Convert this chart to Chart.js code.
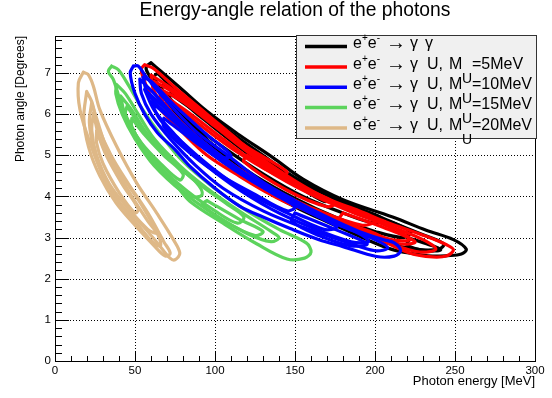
<!DOCTYPE html>
<html><head><meta charset="utf-8">
<script src="https://cdn.jsdelivr.net/npm/chart.js@4/dist/chart.umd.min.js"></script>
<style>html,body{margin:0;padding:0;background:#fff}#wrap{width:552px;height:398px}</style>
</head><body><div id="wrap"><canvas id="c" width="552" height="398"></canvas></div>
<script>
// ---------------- data ----------------
const xTicks = [0, 50, 100, 150, 200, 250, 300];
const yTicks = [0, 1, 2, 3, 4, 5, 6, 7];
const chartTitle = 'Energy-angle relation of the photons';
const xTitle = 'Photon energy [MeV]';
const yTitle = 'Photon angle [Degrees]';
const seriesNames = ['γγ', 'U 5 MeV', 'U 10 MeV', 'U 15 MeV', 'U 20 MeV'];
const uMasses = ['', '5MeV', '10MeV', '15MeV', '20MeV'];

// contour loops [energy MeV, angle deg]
const ggLevel1 = [[60,7.25],[66,7.05],[78,6.65],[95,6.07],[115,5.5],[136,4.95],[155,4.42],[180,3.92],[211,3.5],[232,3.18],[249,2.95],[257,2.72],[254,2.6],[245,2.56],[236,2.55],[222,2.62],[210,2.72],[195,2.95],[175,3.3],[150,3.75],[125,4.3],[105,4.9],[88,5.5],[75,6.05],[65,6.6],[58,7.0],[57,7.15],[60,7.25]];
const ggLevel2 = [[64,7.0],[72,6.7],[90,6.1],[110,5.55],[130,5.0],[155,4.3],[180,3.8],[205,3.45],[228,3.1],[243,2.85],[240,2.72],[225,2.72],[205,2.9],[180,3.3],[155,3.75],[130,4.3],[108,4.9],[90,5.5],[75,6.1],[66,6.6],[62,6.9],[64,7.0]];
const ggLevel3 = [[68,6.75],[80,6.4],[100,5.8],[125,5.1],[150,4.45],[175,3.95],[200,3.55],[222,3.15],[218,3.0],[200,3.15],[175,3.5],[150,3.95],[125,4.5],[105,5.05],[88,5.65],[75,6.25],[67,6.6],[68,6.75]];
const ggLevel4 = [[72,6.5],[90,6.0],[115,5.3],[140,4.65],[165,4.1],[190,3.7],[205,3.45],[200,3.35],[180,3.6],[155,4.0],[130,4.55],[105,5.2],[85,5.8],[72,6.35],[72,6.5]];
const ggLevel5 = [[222,2.98],[236,2.8],[241,2.7],[232,2.68],[220,2.82],[222,2.98]];
const ggLevel6 = [[82,6.4],[100,5.85],[125,5.1],[150,4.45],[172,3.95],[168,3.88],[148,4.35],[122,5.0],[97,5.75],[82,6.25],[82,6.4]];

const u5Level1 = [[56,7.2],[62,7.1],[75,6.65],[95,6.0],[115,5.35],[128,4.95],[150,4.38],[170,3.95],[190,3.65],[207,3.38],[232,3.03],[245,2.82],[249,2.7],[245,2.56],[236,2.53],[222,2.62],[201,3.0],[180,3.4],[149,3.78],[130,4.15],[115,4.5],[95,5.0],[80,5.55],[62,6.3],[55,6.9],[54,7.1],[56,7.2]];
const u5Level2 = [[60,6.95],[70,6.7],[90,6.1],[115,5.3],[145,4.45],[175,3.85],[205,3.35],[230,2.95],[238,2.72],[228,2.65],[210,2.85],[185,3.25],[160,3.6],[135,4.1],[110,4.7],[90,5.3],[72,6.0],[62,6.55],[60,6.95]];
const u5Level3 = [[66,6.6],[80,6.3],[100,5.7],[125,4.95],[155,4.2],[185,3.65],[215,3.15],[222,2.95],[210,2.95],[185,3.3],[160,3.7],[135,4.2],[112,4.75],[92,5.35],[75,5.95],[66,6.4],[66,6.6]];
const u5Level4 = [[70,6.4],[85,6.0],[105,5.4],[130,4.7],[160,4.05],[190,3.55],[200,3.4],[192,3.3],[165,3.65],[140,4.1],[115,4.65],[95,5.2],[80,5.75],[70,6.2],[70,6.4]];
const u5Level5 = [[120,5.0],[150,4.3],[175,3.85],[170,3.75],[145,4.15],[118,4.85],[120,5.0]];
const u5Level6 = [[62,6.8],[75,6.5],[95,5.9],[120,5.2],[145,4.6],[140,4.5],[115,5.05],[92,5.7],[75,6.25],[64,6.65],[62,6.8]];
const u5Level7 = [[180,3.6],[205,3.25],[225,2.9],[215,2.85],[200,3.1],[178,3.45],[180,3.6]];

const u10Level1 = [[49,7.17],[52,7.17],[56,6.96],[66.7,6.45],[87.5,5.6],[108,5.0],[128,4.4],[150,3.9],[170,3.5],[190,3.15],[205,2.95],[212,2.87],[216,2.68],[212,2.55],[201,2.54],[180,2.78],[165,2.95],[147,3.22],[130,3.5],[115.6,3.76],[100,4.2],[84.4,4.73],[75,5.14],[64,5.55],[56,6.0],[50,6.5],[47,7.0],[49,7.17]];
const u10Level2 = [[53,6.85],[62,6.5],[80,5.75],[100,5.1],[125,4.4],[150,3.85],[175,3.35],[200,2.95],[208,2.75],[200,2.68],[180,2.92],[155,3.25],[130,3.65],[105,4.2],[88,4.75],[72,5.4],[60,6.0],[54,6.5],[53,6.85]];
const u10Level3 = [[56,6.6],[70,6.1],[90,5.4],[115,4.65],[140,4.0],[165,3.5],[190,3.1],[196,2.9],[185,2.9],[160,3.25],[135,3.7],[110,4.3],[90,4.9],[75,5.5],[62,6.1],[56,6.6]];
const u10Level4 = [[60,6.3],[75,5.8],[95,5.15],[120,4.45],[145,3.9],[170,3.4],[176,3.25],[168,3.2],[145,3.6],[120,4.1],[98,4.7],[80,5.3],[66,5.85],[60,6.3]];
const u10Level5 = [[68,5.9],[85,5.4],[110,4.7],[135,4.1],[150,3.75],[145,3.65],[125,4.05],[100,4.6],[80,5.2],[68,5.7],[68,5.9]];
const u10Level6 = [[55,6.9],[60,6.8],[75,6.2],[95,5.5],[110,5.0],[105,4.95],[88,5.4],[70,6.0],[58,6.5],[55,6.9]];
const u10Level7 = [[150,3.6],[175,3.2],[195,2.85],[185,2.8],[165,3.05],[148,3.4],[150,3.6]];

const u15Level1 = [[35.4,7.17],[39.6,7.08],[46,6.7],[55,6.1],[66,5.5],[80,4.85],[98,4.25],[118,3.7],[140,3.2],[157,2.87],[160,2.65],[156,2.5],[145,2.48],[126,2.85],[105,3.35],[84.4,3.88],[76,4.25],[61.4,4.81],[51,5.46],[42.7,6.11],[36.5,6.84],[33.3,7.04],[35.4,7.17]];
const u15Level2 = [[38.5,6.72],[44,6.5],[52,6.0],[62,5.4],[78,4.75],[95,4.2],[115,3.65],[135,3.15],[140,3.0],[135,2.9],[120,3.1],[100,3.55],[80,4.1],[62,4.75],[50,5.4],[42,6.0],[38,6.5],[38.5,6.72]];
const u15Level3 = [[41,6.44],[48,6.1],[58,5.5],[72,4.9],[90,4.3],[108,3.8],[118,3.5],[114,3.35],[100,3.65],[82,4.15],[65,4.75],[52,5.4],[44,5.95],[41,6.44]];
const u15Level4 = [[45,6.19],[52,5.8],[62,5.3],[75,4.8],[88,4.35],[92,4.05],[85,4.0],[72,4.4],[58,5.0],[48,5.6],[44,6.0],[45,6.19]];
const u15Level5 = [[48,5.9],[56,5.5],[68,5.0],[80,4.55],[78,4.4],[66,4.8],[54,5.3],[48,5.7],[48,5.9]];
const u15Level6 = [[95,3.9],[115,3.45],[130,3.15],[125,3.05],[108,3.35],[92,3.8],[95,3.9]];

const u20Level1 = [[17.7,7.02],[20.8,6.96],[24,6.68],[28,6.11],[38.5,5.22],[51,4.33],[63.5,3.6],[74,2.95],[78,2.62],[75,2.46],[71.9,2.5],[65.6,2.79],[55.2,3.27],[40.6,3.84],[30.2,4.49],[21.9,5.3],[15.6,6.11],[14.6,6.76],[17.7,7.02]];
const u20Level2 = [[19.8,6.55],[23,6.3],[27,5.7],[35,5.0],[46,4.3],[58,3.6],[68,2.9],[72,2.62],[69,2.55],[62,2.8],[50,3.3],[38,3.85],[28,4.5],[21,5.2],[18,5.9],[19.8,6.55]];
const u20Level3 = [[22.9,6.27],[26,5.9],[32,5.2],[42,4.5],[54,3.8],[64,3.1],[66,2.8],[62,2.85],[52,3.3],[40,3.85],[30,4.5],[24,5.2],[21.5,5.8],[22.9,6.27]];
const u20Level4 = [[24,6.03],[28,5.4],[36,4.8],[48,4.0],[58,3.4],[63.5,3.11],[58,3.2],[46,3.7],[34,4.3],[26,5.0],[23,5.6],[24,6.03]];
const u20Level5 = [[26,5.6],[32,5.0],[42,4.3],[52,3.7],[50,3.6],[40,4.1],[30,4.8],[26,5.3],[26,5.6]];

// ---------------- styling ----------------
const colors = ['#000000', '#ff0000', '#0000ff', '#5cd35c', '#deb887'];
const drawOrder = [4, 3, 1, 2, 5];
const seriesLoops = [
  [ggLevel1, ggLevel2, ggLevel3, ggLevel4, ggLevel5, ggLevel6],
  [u5Level1, u5Level2, u5Level3, u5Level4, u5Level5, u5Level6, u5Level7],
  [u10Level1, u10Level2, u10Level3, u10Level4, u10Level5, u10Level6, u10Level7],
  [u15Level1, u15Level2, u15Level3, u15Level4, u15Level5, u15Level6],
  [u20Level1, u20Level2, u20Level3, u20Level4, u20Level5]
];
const FONT = '"Liberation Sans", Arial, Helvetica, sans-serif';

const datasets = [];
seriesLoops.forEach((loops, s) => {
  loops.forEach((loop, k) => {
    datasets.push({
      label: seriesNames[s] + (k ? ' level ' + (k + 1) : ''),
      data: loop.map(([x, y]) => ({x, y})),
      showLine: true, pointRadius: 0, pointHoverRadius: 0,
      borderColor: colors[s], backgroundColor: colors[s],
      borderWidth: 3.2, tension: 0.35, fill: false,
      borderJoinStyle: 'round', borderCapStyle: 'round',
      order: drawOrder[s]
    });
  });
});

function crisp(v) { return Math.round(v) + 0.5; }

const rootStyle = {
  id: 'rootStyle',
  beforeDatasetsDraw(chart) {
    const {ctx, chartArea: a, scales: {x, y}} = chart;
    ctx.save();
    ctx.strokeStyle = '#000';
    ctx.lineWidth = 1;
    ctx.setLineDash([1, 2]);
    xTicks.forEach(v => {
      const px = crisp(x.getPixelForValue(v));
      ctx.beginPath(); ctx.moveTo(px, a.top); ctx.lineTo(px, a.bottom); ctx.stroke();
    });
    yTicks.forEach(v => {
      const py = crisp(y.getPixelForValue(v));
      ctx.beginPath(); ctx.moveTo(a.left, py); ctx.lineTo(a.right, py); ctx.stroke();
    });
    ctx.restore();
  },
  afterDatasetsDraw(chart) {
    const {ctx, chartArea: a, scales: {x, y}} = chart;
    ctx.save();
    ctx.setLineDash([]);
    ctx.strokeStyle = '#000';
    ctx.lineWidth = 1;
    ctx.strokeRect(crisp(a.left), crisp(a.top), Math.round(a.right) - Math.round(a.left), Math.round(a.bottom) - Math.round(a.top));
    for (let v = 0; v <= 300; v += 10) {
      const px = crisp(x.getPixelForValue(v));
      const len = (v % 50 === 0) ? 10 : 5;
      ctx.beginPath(); ctx.moveTo(px, a.bottom); ctx.lineTo(px, a.bottom - len); ctx.stroke();
    }
    for (let i = 0; i <= 39; i++) {
      const v = i * 0.2;
      if (v > 7.9) break;
      const py = crisp(y.getPixelForValue(v));
      const len = (i % 5 === 0) ? 14 : 7;
      ctx.beginPath(); ctx.moveTo(a.left, py); ctx.lineTo(a.left + len, py); ctx.stroke();
    }
    ctx.restore();
  },
  afterDraw(chart) {
    const {ctx} = chart;
    ctx.save();
    ctx.fillStyle = '#000';
    ctx.font = '19.3px ' + FONT;
    ctx.textAlign = 'center';
    ctx.textBaseline = 'alphabetic';
    ctx.fillText(chartTitle, 295, 16);
    // legend box
    const bx = 296.5, by = 35.5, bw = 240, bh = 103;
    ctx.fillStyle = '#f0f0f0';
    ctx.fillRect(bx, by, bw, bh);
    ctx.strokeStyle = '#333';
    ctx.lineWidth = 1;
    ctx.strokeRect(bx, by, bw, bh);
    const sampleY = [46.5, 67, 87.3, 107.6, 128];
    const fs = 16;
    ctx.textAlign = 'left';
    colors.forEach((c, i) => {
      const yy = sampleY[i];
      ctx.strokeStyle = c; ctx.lineWidth = 3.5; ctx.lineCap = 'butt';
      ctx.beginPath(); ctx.moveTo(305, yy); ctx.lineTo(347, yy); ctx.stroke();
      const base = yy + 1.8;
      const x0 = 353;
      ctx.fillStyle = '#000';
      let tx = x0;
      const put = (t, font, dy, at) => {
        ctx.font = font;
        if (at !== undefined) tx = x0 + at;
        ctx.fillText(t, tx, base + dy);
        tx += ctx.measureText(t).width;
      };
      const main = fs + 'px ' + FONT;
      const small = '10px ' + FONT;
      put('e', main, 0); put('+', small, -7); put('e', main, 0); put('-', small, -7);
      put('\u2192', '20px ' + FONT, 1, 33);
      put('\u03b3', main, 0, 57);
      if (i === 0) {
        put('\u03b3', main, 0, 72);
      } else {
        put('U,', main, 0, 74);
        put('M', main, 0, 96);
        put('U', '14px ' + FONT, 14, 109);
        put('=' + uMasses[i], main, 0, 119);
      }
    });
    ctx.restore();
  }
};

new Chart(document.getElementById('c'), {
  type: 'scatter',
  data: {datasets},
  options: {
    responsive: false, animation: false, devicePixelRatio: 1,
    layout: {padding: {top: 36, right: 17, left: 0, bottom: 0}},
    plugins: {legend: {display: false}, tooltip: {enabled: false}, title: {display: false}},
    scales: {
      x: {
        type: 'linear', min: 0, max: 300,
        afterBuildTicks: s => { s.ticks = xTicks.map(v => ({value: v})); },
        afterFit: s => { s.height = 37; },
        grid: {display: false, drawTicks: false},
        border: {display: false},
        ticks: {padding: 3, color: '#000', maxRotation: 0, autoSkip: false, font: {family: FONT, size: 11.5}},
        title: {display: true, text: xTitle, align: 'end', color: '#000', font: {family: FONT, size: 13}, padding: {top: 0, bottom: 8.5}}
      },
      y: {
        type: 'linear', min: 0, max: 7.9,
        afterBuildTicks: s => { s.ticks = yTicks.map(v => ({value: v})); },
        afterFit: s => { s.width = 55; },
        grid: {display: false, drawTicks: false},
        border: {display: false},
        ticks: {padding: 4, color: '#000', font: {family: FONT, size: 11.5}},
        title: {display: true, text: yTitle, align: 'end', color: '#000', font: {family: FONT, size: 12}, padding: {top: 13, bottom: 0}}
      }
    }
  },
  plugins: [rootStyle]
});
</script></body></html>
